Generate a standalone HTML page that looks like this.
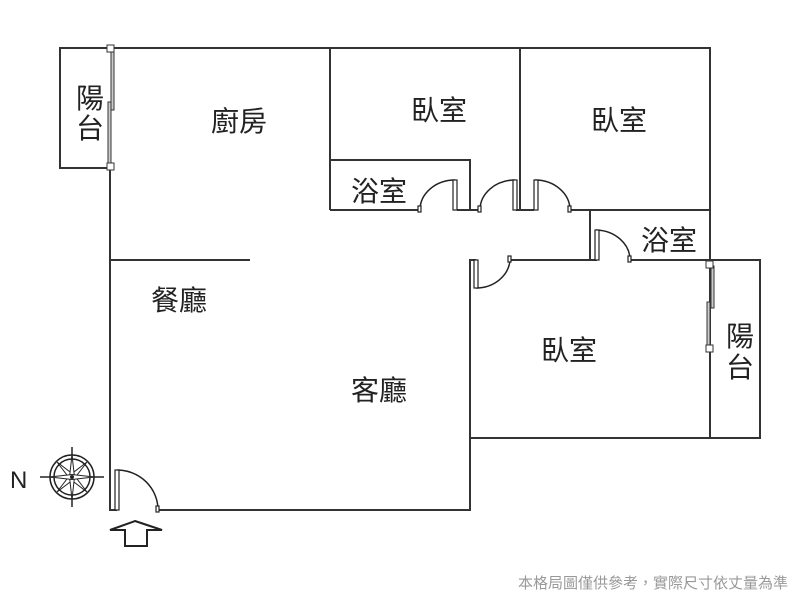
<!DOCTYPE html>
<html><head><meta charset="utf-8"><style>
html,body{margin:0;padding:0;background:#fff;}
svg{display:block;}
text{font-family:"Liberation Sans","Noto Sans CJK TC",sans-serif;fill:#222;}
</style></head><body>
<svg width="800" height="600" viewBox="0 0 800 600" xmlns="http://www.w3.org/2000/svg">
<rect width="800" height="600" fill="#fff"/>
<g stroke="#333" stroke-width="2" fill="none">
<polyline points="110,48 710,48 710,438 470,438"/>
<polyline points="110,168 110,510 117,510"/>
<polyline points="158,510 470,510 470,260 476,260"/>
<polyline points="110,48 60,48 60,168 110,168"/>
<polyline points="710,260 760,260 760,438 710,438"/>
<line x1="110" y1="260" x2="250" y2="260"/>
<line x1="330" y1="48" x2="330" y2="210"/>
<line x1="520" y1="48" x2="520" y2="210"/>
<polyline points="330,160 470,160 470,210"/>
<line x1="330" y1="210" x2="420" y2="210"/>
<line x1="457" y1="210" x2="480" y2="210"/>
<line x1="516" y1="210" x2="534" y2="210"/>
<line x1="570" y1="210" x2="710" y2="210"/>
<line x1="590" y1="210" x2="590" y2="260"/>
<line x1="510" y1="260" x2="597" y2="260"/>
<line x1="630" y1="260" x2="710" y2="260"/>
</g>
<g stroke="#222" stroke-width="1.5" fill="none">
<path d="M420,210 A35,30 0 0 1 455,180"/>
<path d="M480,210 A35,30 0 0 1 515,180"/>
<path d="M570,210 A35,30 0 0 0 535,180"/>
<path d="M630,260 A35,30 0 0 0 596,230"/>
<path d="M510,260 A34,30 0 0 1 476,288"/>
<path d="M158,510 A41,40 0 0 0 117,470"/>
</g>
<g fill="#fff" stroke="#222" stroke-width="1.2">
<rect x="453" y="180" width="4" height="30"/>
<rect x="513" y="180" width="4" height="30"/>
<rect x="534" y="180" width="4" height="30"/>
<rect x="595" y="230" width="4" height="30"/>
<rect x="474" y="260" width="4" height="28"/>
<rect x="115" y="470" width="4" height="40"/>
<rect x="418" y="206" width="3" height="6"/><rect x="478" y="206" width="3" height="6"/>
<rect x="568" y="206" width="3" height="6"/><rect x="628" y="256" width="3" height="6"/>
<rect x="508" y="256" width="3" height="6"/><rect x="156" y="506" width="3" height="6"/>
</g>
<g stroke="#333" stroke-width="1" fill="#ccc">
<rect x="111" y="52" width="3" height="58"/>
<rect x="108" y="102" width="3" height="62"/>
<rect x="711" y="266" width="3" height="42"/>
<rect x="707" y="302" width="3" height="44"/>
</g>
<g stroke="#333" stroke-width="1" fill="#fff">
<rect x="107" y="45" width="7" height="7"/>
<rect x="107" y="163" width="7" height="7"/>
<rect x="706" y="261" width="7" height="7"/>
<rect x="706" y="345" width="7" height="7"/>
</g>
<g font-size="28">
<text x="211" y="131">廚房</text>
<text x="411" y="120">臥室</text>
<text x="591" y="130">臥室</text>
<text x="351" y="201">浴室</text>
<text x="641" y="250">浴室</text>
<text x="151" y="310">餐廳</text>
<text x="351" y="400">客廳</text>
<text x="541" y="360">臥室</text>
<text x="76" y="108">陽</text>
<text x="76" y="138">台</text>
<text x="726" y="346">陽</text>
<text x="726" y="377">台</text>
</g>
<text x="10" y="488" font-size="24">N</text>
<g stroke="#222" fill="none">
<circle cx="72" cy="477" r="22" stroke-width="1.5"/>
<circle cx="72" cy="477" r="18" stroke-width="1.5"/>
<line x1="40" y1="477" x2="104" y2="477" stroke-width="1.5"/>
<line x1="72" y1="447" x2="72" y2="507" stroke-width="1.5"/>
</g>
<g fill="#fff" stroke="#222" stroke-width="1">
<polygon points="57,462 74,475 87,492 70,479"/>
<polygon points="87,462 74,479 57,492 70,475"/>
<polygon points="72,455 74.5,477 72,499 69.5,477"/>
<polygon points="50,477 72,474.5 94,477 72,479.5"/>
</g>
<circle cx="72" cy="477" r="2" fill="#222"/>
<polygon points="135,521 162,530 147,530 147,546 125,546 125,530 110,530" fill="#fff" stroke="#222" stroke-width="2"/>
<text x="788" y="588" font-size="15" text-anchor="end" style="fill:#999">本格局圖僅供參考，實際尺寸依丈量為準</text>
</svg>
</body></html>
